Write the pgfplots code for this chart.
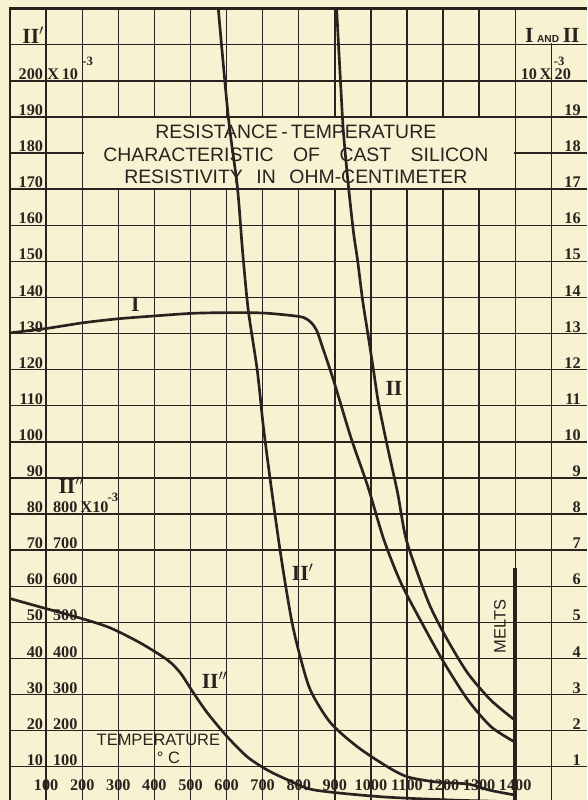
\documentclass[border=0pt]{standalone}
\usepackage{fontspec}
\setmainfont{Liberation Serif}
\setsansfont{Liberation Sans}
\usepackage{pgfplots}
\pgfplotsset{compat=1.18}
\definecolor{paper}{RGB}{247,242,210}
\definecolor{ink}{RGB}{40,35,30}

\tikzset{
  grid line/.style={ink, line width=1.1pt},
  num/.style={font=\fontsize{12.8}{13}\selectfont\bfseries, text=ink, inner sep=0.8pt},
  sup/.style={font=\fontsize{10}{10}\selectfont\bfseries, text=ink, inner sep=0pt},
  lab/.style={font=\fontsize{17}{17}\selectfont\bfseries, text=ink, inner sep=0pt},
  sans/.style={font=\fontsize{13}{15}\selectfont\sffamily, text=ink, inner sep=0pt},
}
\pgfplotsset{
  curve/.style={ink, line width=2.1pt, smooth, tension=0.45, no marks},
}

\begin{document}
\begin{tikzpicture}
\begin{axis}[
  x=0.01cm, y=0.1cm,
  xmin=-28, xmax=1600, ymin=0.8, ymax=222.4,
  axis line style={draw=none},
  xtick=\empty, ytick=\empty,
  axis background/.style={fill=paper},
]
% grid
\pgfplotsinvokeforeach{100,200,...,1500}{
  \draw[grid line] (axis cs:#1,0.8) -- (axis cs:#1,220);
}
\pgfplotsinvokeforeach{10,20,...,210}{
  \draw[grid line] (axis cs:0,#1) -- (axis cs:1600,#1);
}
% blank cells
\fill[paper] (axis cs:204,170.35) rectangle (axis cs:1396,189.65);
\fill[paper] (axis cs:1404,210.35) rectangle (axis cs:1600,219.6);
% frame and melting line
\draw[ink, line width=2.2pt] (axis cs:0,0.8) -- (axis cs:0,220) -- (axis cs:1600,220);
\draw[ink, line width=2.8pt] (axis cs:1400,0.8) -- (axis cs:1400,65);

% curve I (right scale x10)
\addplot[curve] coordinates {
  (0,130.2) (100,131.4) (203,133.0) (300,134.1) (403,134.9) (503,135.6)
  (603,135.8) (700,135.7) (780,135.0) (815,134.4) (835,133.0) (850,130.8)
  (865,126.5) (897,116.9) (944,101.4) (992,87.5) (1036,72.9) (1083,61.0)
  (1147,48.8) (1203,38.8) (1269,28.5) (1333,21.1) (1398,16.9)
};
% curve II
\addplot[curve] coordinates {
  (905,220) (916,199.4) (924,185.6) (938,170.6) (952,157.9) (963,150.4)
  (977,139.3) (993,129.1) (1007,120.0) (1021,110.8) (1046,98.6) (1074,85.9)
  (1096,73.7) (1129,63.7) (1165,54.3) (1212,45.2) (1268,36.0) (1332,28.5)
  (1398,23.0)
};
% curve II'
\addplot[curve] coordinates {
  (577,220) (605,189.8) (630,170.6) (644,153.2) (660,136.6) (685,119.9)
  (702,104.2) (721,89.5) (744,72.9) (761,61.8) (780,50.7) (799,42.4)
  (832,31.3) (888,22.2) (963,15.5) (1046,10.0) (1102,7.2) (1180,5.8)
  (1270,5.2) (1330,3.5) (1398,2.2)
};
% curve II''
\addplot[curve] coordinates {
  (0,56.6) (64,54.8) (194,51.2) (277,48.5) (361,44.3) (436,39.6) (472,36.0)
  (508,30.5) (547,24.9) (602,18.3) (658,12.7) (713,9.1) (769,6.4)
  (842,3.6) (1028,1.7) (1222,0.8) (1400,0.3)
};

% left scale II'
\pgfplotsinvokeforeach{10,20,...,190}{
  \node[num, anchor=south east] at (axis cs:95,#1) {#1};
}
\node[num, anchor=south east] at (axis cs:95,200) {200};
\node[num, anchor=south west] at (axis cs:100,200) {X\,10};
\node[sup] at (axis cs:215,205.5) {-3};
% left scale II''
\pgfplotsinvokeforeach{1,...,7}{
  \node[num, anchor=south east] at (axis cs:190,#10) {#100};
}
\node[num, anchor=south east] at (axis cs:190,80) {800};
\node[num, anchor=south west] at (axis cs:192,80) {X10};
\node[sup] at (axis cs:285,84.5) {-3};
% right scale I and II
\pgfplotsinvokeforeach{1,...,19}{
  \node[num, anchor=south east] at (axis cs:1585,#10) {#1};
}
\node[num, anchor=south west] at (axis cs:1506,200) {20};
\node[num, anchor=south east] at (axis cs:1504,200) {10\,X};
\node[sup] at (axis cs:1522,205.3) {-3};
% temperature scale
\pgfplotsinvokeforeach{1,...,14}{
  \node[num, anchor=base] at (axis cs:#100,3.4) {#100};
}

% curve names
\node[lab] at (axis cs:64,212.7) {II$'$};
\node[lab] at (axis cs:1503,212.7) {I\,{\fontsize{8}{8}\selectfont\sffamily AND}\,II};
\node[lab] at (axis cs:347,138) {I};
\node[lab] at (axis cs:1064,114.7) {II};
\node[lab] at (axis cs:811,64) {II$'$};
\node[lab] at (axis cs:567,34) {II$''$};
\node[lab] at (axis cs:170,88) {II$''$};

% text
\node[font=\fontsize{15.3}{17.5}\selectfont\sffamily, text=ink, align=center]
  at (axis cs:792,179.6)
  {RESISTANCE\,-\,TEMPERATURE\\
   CHARACTERISTIC\hspace{1em}OF\hspace{1em}CAST\hspace{1em}SILICON\\
   RESISTIVITY\hspace{0.7em}IN\hspace{0.7em}OHM-CENTIMETER};
\node[sans] at (axis cs:411,17.4) {TEMPERATURE};
\node[sans] at (axis cs:439,12.6) {° C};
\node[sans, rotate=90] at (axis cs:1358,48.8) {MELTS};
\end{axis}
\end{tikzpicture}
\end{document}
